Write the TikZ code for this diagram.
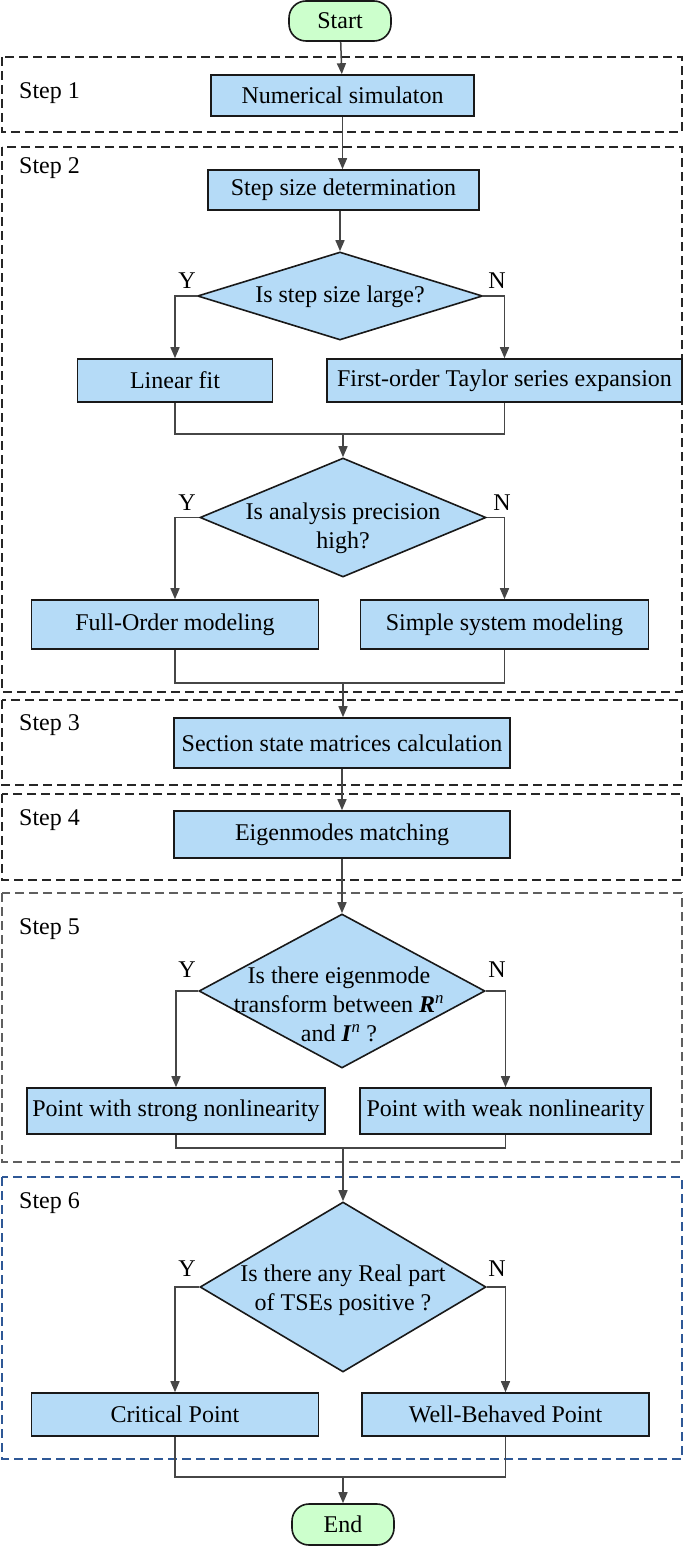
\documentclass[tikz,border=0pt]{standalone}
\usepackage{fontspec}
\setmainfont{Liberation Serif}
\usetikzlibrary{arrows.meta,shapes.geometric}
\definecolor{boxblue}{RGB}{181,219,247}
\definecolor{startgreen}{RGB}{204,255,204}
\definecolor{linegray}{RGB}{70,70,70}
\definecolor{stepgray}{RGB}{95,95,95}
\definecolor{stepblue}{RGB}{46,88,150}
\tikzset{
  procbox/.style={draw=black!90, line width=1.6pt, fill=boxblue, rectangle, inner sep=0pt, font=\fontsize{24}{29}\selectfont},
  termbox/.style={draw=black!90, line width=1.6pt, fill=startgreen, rectangle, rounded corners=17pt, inner sep=0pt, minimum width=102pt, minimum height=40pt, font=\fontsize{24}{29}\selectfont},
  decbox/.style={draw=black!90, line width=1.6pt, fill=boxblue, diamond, inner sep=0pt},
  dectext/.style={align=center, inner sep=0pt, font=\fontsize{24}{29}\selectfont},
  stepframe/.style={draw=black!85, dashed, dash pattern=on 9pt off 5pt, line width=1.8pt},
  steplabel/.style={anchor=west, inner sep=0pt, font=\fontsize{24}{29}\selectfont},
  yn/.style={inner sep=0pt, font=\fontsize{24}{29}\selectfont},
  conn/.style={draw=linegray, line width=1.5pt},
  arr/.style={conn, -{Triangle[length=11pt, width=9pt]}}
}
\begin{document}
\begin{tikzpicture}[x=1pt,y=-1pt]
\useasboundingbox (0,0) rectangle (685,1546);
% step frames
\draw[stepframe] (2,57) rectangle (682,132);
\draw[stepframe] (2,147) rectangle (682,692);
\draw[stepframe] (2,700) rectangle (682,785);
\draw[stepframe] (2,794) rectangle (682,880);
\draw[stepframe, draw=stepgray] (2,893) rectangle (682,1162);
\draw[stepframe, draw=stepblue] (2,1177) rectangle (682,1459);
\node[steplabel] (l1) at (19,93) {Step 1};
\node[steplabel] (l2) at (19,168) {Step 2};
\node[steplabel] (l3) at (19,725) {Step 3};
\node[steplabel] (l4) at (19,820) {Step 4};
\node[steplabel] (l5) at (19,929) {Step 5};
\node[steplabel] (l6) at (19,1203) {Step 6};
% nodes
\node[termbox] (start) at (340,21) {Start};
\node[procbox, minimum width=263pt, minimum height=41pt] (num) at (342.5,95.5) {Numerical simulaton};
\node[procbox, minimum width=271pt, minimum height=40pt] (ssd) at (343.5,190) {Step size determination};
\node[decbox, minimum width=285pt, minimum height=88pt] (d1) at (340,296) {};
\node[dectext] (d1t) at (340,297) {Is step size large?};
\node[procbox, minimum width=195pt, minimum height=43pt] (lin) at (175,380.5) {Linear fit};
\node[procbox, minimum width=355pt, minimum height=43pt] (tay) at (504.5,380.5) {First-order Taylor series expansion};
\node[decbox, minimum width=286pt, minimum height=119pt] (d2) at (343,517.5) {};
\node[dectext] (d2t) at (343,528) {Is analysis precision\\high?};
\node[procbox, minimum width=287pt, minimum height=49pt] (full) at (175,624.5) {Full-Order modeling};
\node[procbox, minimum width=288pt, minimum height=49pt] (simple) at (504.5,624.5) {Simple system modeling};
\node[procbox, minimum width=336pt, minimum height=50pt] (sect) at (342,743) {Section state matrices calculation};
\node[procbox, minimum width=336pt, minimum height=47pt] (eig) at (342,834.5) {Eigenmodes matching};
\node[decbox, minimum width=286pt, minimum height=154pt] (d3) at (342,991) {};
\node[dectext] (d3t) at (339,1004) {Is there eigenmode\\transform between \textbf{\textit{R}}\textsuperscript{\textit{n}}\\and \textbf{\textit{I}}\textsuperscript{\textit{n}} ?};
\node[procbox, minimum width=298pt, minimum height=46pt] (strong) at (176,1111) {Point with strong nonlinearity};
\node[procbox, minimum width=291pt, minimum height=46pt] (weak) at (505.5,1111) {Point with weak nonlinearity};
\node[decbox, minimum width=286pt, minimum height=170pt] (d4) at (343,1287) {};
\node[dectext] (d4t) at (343,1290) {Is there any Real part\\of TSEs positive ?};
\node[procbox, minimum width=287pt, minimum height=43pt] (crit) at (175,1414.5) {Critical Point};
\node[procbox, minimum width=287pt, minimum height=43pt] (well) at (505.5,1414.5) {Well-Behaved Point};
\node[termbox, minimum height=41pt] (end) at (343,1524.5) {End};
% Y/N labels
\node[yn] (y1) at (187,281) {Y};
\node[yn] (n1) at (497,281) {N};
\node[yn] (y2) at (187,503) {Y};
\node[yn] (n2) at (502,503) {N};
\node[yn] (y3) at (187,970) {Y};
\node[yn] (n3) at (497,970) {N};
\node[yn] (y4) at (187,1269) {Y};
\node[yn] (n4) at (497,1269) {N};
% merge points
\coordinate (m1) at (343,434);
\coordinate (m2) at (343,683);
\coordinate (m3) at (343,1148);
\coordinate (m4) at (343,1477);
% connectors
\draw[arr] (start) -- (num);
\draw[arr] (num) -- (ssd.north -| num);
\draw[arr] (ssd.south -| d1) -- (d1);
\draw[arr] (d1.west) -| (lin.north);
\draw[arr] (d1.east) -| (tay.north);
\draw[conn] (lin.south) |- (m1) -| (tay.south);
\draw[arr] (m1) -- (d2.north);
\draw[arr] (d2.west) -| (full.north);
\draw[arr] (d2.east) -| (simple.north);
\draw[conn] (full.south) |- (m2) -| (simple.south);
\draw[arr] (m2) -- (sect.north -| m2);
\draw[arr] (sect) -- (eig);
\draw[arr] (eig) -- (d3.north);
\draw[arr] (d3.west) -| (strong.north);
\draw[arr] (d3.east) -| (weak.north);
\draw[conn] (strong.south) |- (m3) -| (weak.south);
\draw[arr] (m3) -- (d4.north);
\draw[arr] (d4.west) -| (crit.north);
\draw[arr] (d4.east) -| (well.north);
\draw[conn] (crit.south) |- (m4) -| (well.south);
\draw[arr] (m4) -- (end.north);
\end{tikzpicture}
\end{document}
